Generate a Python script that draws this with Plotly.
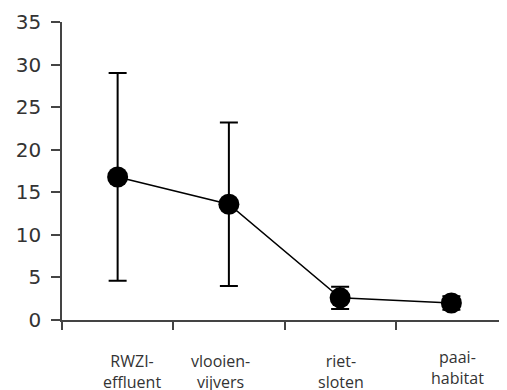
import plotly.graph_objects as go

categories = ["RWZI-<br>effluent", "vlooien-<br>vijvers", "riet-<br>sloten", "paai-<br>habitat"]
values = [16.8, 13.6, 2.6, 2.0]
errors = [12.2, 9.6, 1.3, 0.8]
y_ticks = [0, 5, 10, 15, 20, 25, 30, 35]

x_pos = list(range(len(categories)))
label_xshift = [14, -8, 1, 6]
label_yshift = [-28, -28, -28, -24]

fig = go.Figure()
fig.add_trace(go.Scatter(
    x=x_pos, y=values, mode="lines+markers",
    line=dict(color="black", width=1.5),
    marker=dict(color="black", size=21, symbol="circle"),
    error_y=dict(type="data", array=errors, visible=True, color="black", thickness=2, width=9),
    showlegend=False, cliponaxis=False,
))

for i, lab in enumerate(categories):
    fig.add_annotation(x=x_pos[i], xref="x", y=0, yref="paper", text=lab, showarrow=False,
                       yanchor="top", xanchor="center", xshift=label_xshift[i], yshift=label_yshift[i],
                       font=dict(family="Open Sans", size=16, color="#333333"))

# page body has an 8px margin; the figure is sized so its plot area lands where the reference has it
fig.update_layout(
    width=499, height=382,
    margin=dict(l=54, r=0, t=14, b=70),
    paper_bgcolor="white", plot_bgcolor="white",
    xaxis=dict(range=[-0.5, 3.5], tickvals=[-0.5, 0.5, 1.5, 2.5, 3.5], ticktext=["", "", "", "", ""],
               showgrid=False, zeroline=False, showline=True, linecolor="#444444", linewidth=1.5,
               ticks="outside", ticklen=8, tickcolor="#444444", tickwidth=1.5),
    yaxis=dict(range=[0, 35], tickvals=y_ticks, showgrid=False, zeroline=False, showline=True,
               linecolor="#444444", linewidth=1.5, ticks="outside", ticklen=9, tickcolor="#444444",
               tickwidth=1.5, ticklabelstandoff=6,
               tickfont=dict(family="DejaVu Sans", size=20, color="#333333")),
)

fig.write_html("out.html")
